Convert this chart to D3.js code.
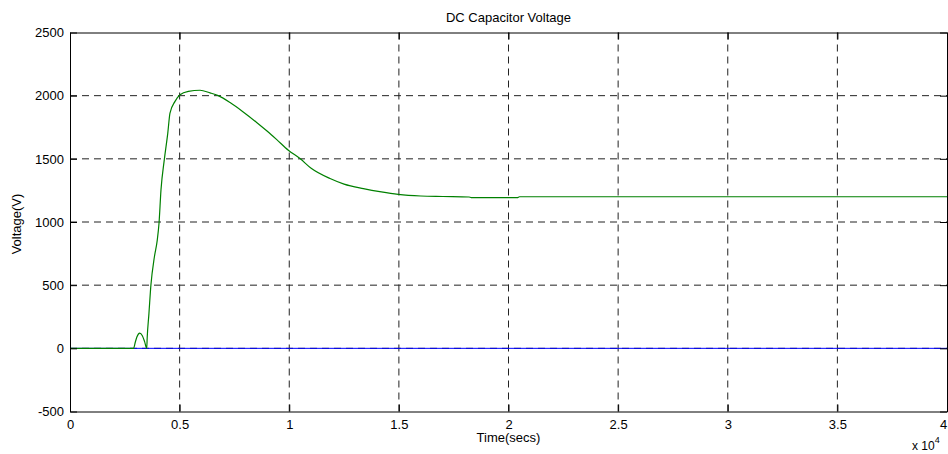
<!DOCTYPE html>
<html>
<head>
<meta charset="utf-8">
<script src="https://cdn.jsdelivr.net/npm/d3@7"></script>
<style>
  body { margin: 0; background: #fff; }
  text { font-family: "Liberation Sans", Arial, sans-serif; }
</style>
</head>
<body>
<script>
// DATA (time in units of 1e4 s)
var xTicks = [0, 0.5, 1, 1.5, 2, 2.5, 3, 3.5, 4];
var yTicks = [-500, 0, 500, 1000, 1500, 2000, 2500];
var blueT = [0, 4];
var blueV = [0, 0];
var greenT = [0, 0.29, 0.298, 0.305, 0.318, 0.33, 0.34, 0.35, 0.352, 0.36, 0.369, 0.385, 0.398, 0.406,
              0.415, 0.43, 0.446, 0.456, 0.479, 0.502, 0.54, 0.593, 0.639, 0.676, 0.73, 0.79, 0.85, 0.9,
              0.943, 0.996, 1.049, 1.1, 1.186, 1.25, 1.338, 1.42, 1.497, 1.6, 1.7, 1.82, 1.83, 2.04, 2.05, 4];
var greenV = [0, 0, 50, 90, 121, 100, 55, 0, 80, 275, 500, 725, 857, 990,
              1254, 1492, 1704, 1862, 1955, 2008, 2034, 2043, 2022, 2000, 1945, 1871, 1790, 1718,
              1652, 1568, 1502, 1425, 1344, 1300, 1264, 1238, 1219, 1206, 1202, 1198, 1193, 1193, 1200, 1200];

var W = 948, H = 454;
var m = {left: 70, right: 1, top: 32.5, bottom: 42.5};
var fs = 13;

var svg = d3.select("body").append("svg")
    .attr("width", W)
    .attr("height", H);

var x = d3.scaleLinear().domain([0, 4]).range([m.left, W - m.right]);
var y = d3.scaleLinear().domain([-500, 2500]).range([H - m.bottom, m.top]);

// grid
svg.append("g").selectAll("line")
   .data(xTicks.slice(1, -1))
   .enter().append("line")
   .attr("x1", d => x(d)).attr("x2", d => x(d))
   .attr("y1", y(-500)).attr("y2", y(2500))
   .attr("stroke", "#222").attr("stroke-dasharray", "7,5");
svg.append("g").selectAll("line")
   .data(yTicks.slice(1, -1))
   .enter().append("line")
   .attr("y1", d => y(d)).attr("y2", d => y(d))
   .attr("x1", x(0)).attr("x2", x(4))
   .attr("stroke", "#222").attr("stroke-dasharray", "7,5");

// lines
var line = d3.line()
    .x(d => x(d[0]))
    .y(d => y(d[1]))
    .curve(d3.curveMonotoneX);

svg.append("path")
   .datum(d3.zip(blueT, blueV))
   .attr("d", line)
   .attr("fill", "none")
   .attr("stroke", "#0000ff")
   .attr("stroke-width", 1);

svg.append("path")
   .datum(d3.zip(greenT, greenV))
   .attr("d", line)
   .attr("fill", "none")
   .attr("stroke", "#008000")
   .attr("stroke-width", 1.2);

// axes (ticks inward)
var fmt = d => String(d);
svg.append("g")
   .attr("transform", "translate(0," + y(-500) + ")")
   .call(d3.axisBottom(x).tickValues(xTicks).tickFormat(fmt).tickSizeInner(-7).tickSizeOuter(0).tickPadding(8));
svg.append("g")
   .attr("transform", "translate(0," + y(2500) + ")")
   .call(d3.axisTop(x).tickValues(xTicks).tickFormat("").tickSizeInner(-7).tickSizeOuter(0));
svg.append("g")
   .attr("transform", "translate(" + x(0) + ",0)")
   .call(d3.axisLeft(y).tickValues(yTicks).tickFormat(fmt).tickSizeInner(-7).tickSizeOuter(0).tickPadding(6));
svg.append("g")
   .attr("transform", "translate(" + x(4) + ",0)")
   .call(d3.axisRight(y).tickValues(yTicks).tickFormat("").tickSizeInner(-7).tickSizeOuter(0));

svg.selectAll(".domain").attr("stroke", "#000");
svg.selectAll(".tick line").attr("stroke", "#000");
svg.selectAll(".tick text")
   .attr("font-family", "'Liberation Sans', Arial, sans-serif")
   .attr("font-size", fs)
   .attr("fill", "#000");
// keep the last x label inside the window
svg.selectAll(".tick text").filter(d => d === 4).attr("dx", -4);

// labels
svg.append("text")
   .attr("x", (x(0) + x(4)) / 2).attr("y", 22)
   .attr("text-anchor", "middle").attr("font-size", fs)
   .text("DC Capacitor Voltage");
svg.append("text")
   .attr("x", (x(0) + x(4)) / 2).attr("y", 442)
   .attr("text-anchor", "middle").attr("font-size", fs)
   .text("Time(secs)");
svg.append("text")
   .attr("transform", "translate(21,224) rotate(-90)")
   .attr("text-anchor", "middle").attr("font-size", fs)
   .text("Voltage(V)");
var ex = svg.append("text")
   .attr("x", 912).attr("y", 450).attr("font-size", 12);
ex.append("tspan").text("x 10");
ex.append("tspan").attr("dy", -7).attr("font-size", 9).text("4");
</script>
</body>
</html>
